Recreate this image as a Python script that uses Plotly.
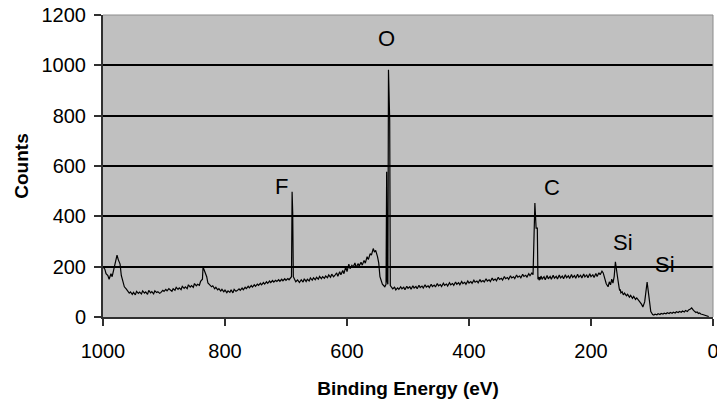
import plotly.graph_objects as go

# Binding energy (eV) and counts
energy = [1000, 997, 995, 992, 990, 987, 985, 982, 980, 977, 975, 972, 970, 967, 965, 962, 960, 957, 955, 952,
          950, 947, 945, 942, 940, 937, 935, 932, 930, 927, 925, 922, 920, 917, 915, 912, 910, 907, 905, 902,
          900, 897, 895, 892, 890, 887, 885, 882, 880, 877, 875, 872, 870, 867, 865, 862, 860, 857, 855, 852,
          850, 847, 845, 842, 840, 837, 836, 834, 832, 830, 828, 825, 822, 820, 817, 815, 812, 810, 807, 805,
          802, 800, 797, 795, 792, 790, 787, 785, 782, 780, 777, 775, 772, 770, 767, 765, 762, 760, 757, 755,
          752, 750, 747, 745, 742, 740, 737, 735, 732, 730, 727, 725, 722, 720, 717, 715, 712, 710, 707, 705,
          702, 700, 697, 695, 692, 691, 690, 689, 688, 686, 684, 681, 678, 675, 672, 670, 667, 665, 662, 660,
          657, 655, 652, 650, 647, 645, 642, 640, 637, 635, 632, 630, 627, 625, 622, 620, 617, 615, 612, 610,
          607, 605, 602, 600, 597, 595, 592, 590, 587, 585, 582, 580, 577, 575, 572, 570, 567, 565, 562, 560,
          558, 557, 555, 553, 550, 548, 546, 544, 542, 540, 538, 536, 535, 534, 533, 532, 531, 530, 529, 527,
          525, 522, 520, 517, 515, 512, 510, 507, 505, 502, 500, 497, 495, 492, 490, 487, 485, 482, 480, 477,
          475, 472, 470, 467, 465, 462, 460, 457, 455, 452, 450, 447, 445, 442, 440, 437, 435, 432, 430, 427,
          425, 422, 420, 417, 415, 412, 410, 407, 405, 402, 400, 397, 395, 392, 390, 387, 385, 382, 380, 377,
          375, 372, 370, 367, 365, 362, 360, 357, 355, 352, 350, 347, 345, 342, 340, 337, 335, 332, 330, 327,
          325, 322, 320, 317, 315, 312, 310, 307, 305, 302, 300, 297, 295, 292, 290, 288, 287, 286, 285, 284,
          283, 282, 280, 277, 275, 272, 270, 267, 265, 262, 260, 257, 255, 252, 250, 247, 245, 242, 240, 237,
          235, 232, 230, 227, 225, 222, 220, 217, 215, 212, 210, 207, 205, 202, 200, 197, 195, 192, 190, 187,
          185, 182, 180, 177, 175, 172, 170, 168, 166, 164, 162, 160, 158, 156, 154, 153, 152, 151, 149, 147,
          145, 142, 140, 137, 135, 132, 130, 127, 125, 122, 120, 117, 115, 112, 110, 108, 106, 104, 103, 102,
          101, 100, 99, 97, 95, 92, 90, 87, 85, 82, 80, 77, 75, 72, 70, 67, 65, 62, 60, 57,
          55, 52, 50, 47, 45, 42, 40, 37, 35, 32, 30, 28, 26, 24, 22, 20, 17, 15, 12, 10,
          7, 5, 3, 1, 0]
counts = [200, 190, 172, 165, 150, 172, 160, 190, 215, 246, 228, 210, 165, 140, 120, 112, 103, 95, 100, 90,
          98, 88, 102, 94, 99, 92, 104, 95, 100, 90, 106, 96, 101, 92, 104, 97, 100, 94, 98, 106,
          102, 110, 104, 113, 108, 102, 112, 106, 118, 110, 116, 109, 122, 114, 120, 113, 128, 119, 125, 118,
          133, 124, 130, 126, 142, 150, 199, 188, 178, 160, 135, 128, 120, 124, 112, 118, 108, 113, 103, 110,
          100, 107, 97, 104, 98, 108, 96, 110, 102, 105, 112, 106, 115, 108, 118, 113, 122, 116, 125, 119,
          128, 122, 131, 126, 134, 128, 137, 131, 140, 134, 143, 137, 145, 139, 146, 141, 148, 142, 150, 144,
          152, 146, 153, 148, 155, 160, 498, 413, 160, 150, 140, 147, 137, 148, 139, 152, 141, 150, 143, 155,
          146, 156, 148, 158, 150, 161, 152, 160, 154, 163, 156, 167, 158, 170, 160, 165, 175, 162, 180, 168,
          185, 172, 200, 180, 210, 192, 205, 198, 215, 196, 212, 203, 218, 206, 225, 214, 240, 228, 252, 246,
          262, 272, 258, 265, 240, 215, 160, 140, 130, 125, 120, 130, 577, 140, 130, 982, 780, 780, 125, 118,
          112, 118, 108, 116, 110, 120, 112, 118, 108, 122, 114, 120, 110, 124, 115, 121, 112, 126, 117, 123,
          115, 128, 119, 124, 117, 130, 121, 127, 119, 133, 124, 129, 121, 134, 126, 131, 123, 136, 128, 133,
          126, 139, 130, 136, 128, 141, 133, 138, 130, 143, 135, 141, 134, 146, 138, 143, 136, 149, 140, 145,
          139, 152, 143, 148, 141, 155, 146, 151, 144, 158, 149, 154, 147, 161, 152, 157, 150, 164, 155, 160,
          153, 167, 158, 163, 156, 170, 161, 166, 159, 172, 164, 175, 168, 453, 353, 353,
          150, 160, 146, 158, 149, 163, 151, 160, 148, 165, 152, 161, 150, 166, 154, 162, 151, 167, 155, 163,
          152, 168, 156, 164, 153, 169, 157, 165, 154, 170, 158, 166, 155, 171, 159, 167, 156, 172, 160, 168,
          157, 173, 161, 176, 168, 182, 175, 150, 132, 120, 140, 128, 150, 135, 160, 219, 170, 150, 118, 105,
          110, 96, 100, 88, 95, 84, 90, 79, 86, 74, 82, 70, 76, 64, 60, 50, 40, 60, 100, 139,
          100, 60, 30, 22, 18, 12, 10, 8, 11, 9, 13, 10, 14, 12, 15, 13, 17, 14, 18, 15,
          19, 16, 21, 18, 22, 19, 24, 20, 26, 22, 28, 32, 36, 26, 22, 18, 20, 14, 16, 12,
          10, 8, 5, 3, 2]

# Peak labels
peak_labels = ["O", "F", "C", "Si", "Si"]
peak_x = [535, 707, 264, 148, 79]
peak_y = [1105, 517, 513, 298, 207]

x_ticks = [1000, 800, 600, 400, 200, 0]
y_ticks = [0, 200, 400, 600, 800, 1000, 1200]

fig = go.Figure()
fig.add_trace(go.Scatter(x=energy, y=counts, mode="lines",
                         line=dict(color="black", width=1.2), showlegend=False, hoverinfo="skip"))

for t, px, py in zip(peak_labels, peak_x, peak_y):
    fig.add_annotation(x=px, y=py, text=t, showarrow=False,
                       font=dict(family="Liberation Sans, Arial, sans-serif", size=22, color="black"))

fig.add_shape(type="line", xref="paper", yref="paper", x0=0, x1=1, y0=1, y1=1,
              line=dict(color="#8c8c8c", width=1), layer="above")
fig.add_shape(type="line", xref="paper", yref="paper", x0=1, x1=1, y0=0, y1=1,
              line=dict(color="#8c8c8c", width=1), layer="above")

tickfont = dict(family="Liberation Sans, Arial, sans-serif", size=20, color="black")
titlefont = dict(family="Liberation Sans, Arial, sans-serif", size=19, color="black")

fig.update_layout(
    width=717, height=402,
    margin=dict(l=103, r=4, t=15, b=85),
    paper_bgcolor="white",
    plot_bgcolor="#c0c0c0",
    xaxis=dict(range=[1000, 0], tickvals=x_ticks, ticktext=[str(v) for v in x_ticks],
               automargin=False, ticklabeloverflow="allow",
               showgrid=False, zeroline=False, showline=True, linecolor="#303030", linewidth=2,
               ticks="outside", ticklen=7, tickwidth=1.5, tickcolor="#303030",
               tickfont=tickfont, ticklabelstandoff=8,
               title=dict(text="<b>Binding Energy (eV)</b>", font=titlefont, standoff=21)),
    yaxis=dict(range=[0, 1200], tickvals=y_ticks, ticktext=[str(v) for v in y_ticks],
               automargin=False,
               showgrid=True, gridcolor="black", gridwidth=1.5, zeroline=False,
               showline=True, linecolor="#303030", linewidth=2,
               ticks="outside", ticklen=7, tickwidth=1.5, tickcolor="#303030",
               tickfont=tickfont, ticklabelstandoff=4,
               title=dict(text="<b>Counts</b>", font=titlefont, standoff=8)),
)

fig.write_html("out.html", config={"displayModeBar": False},
               post_script="document.body.style.margin='0';")
